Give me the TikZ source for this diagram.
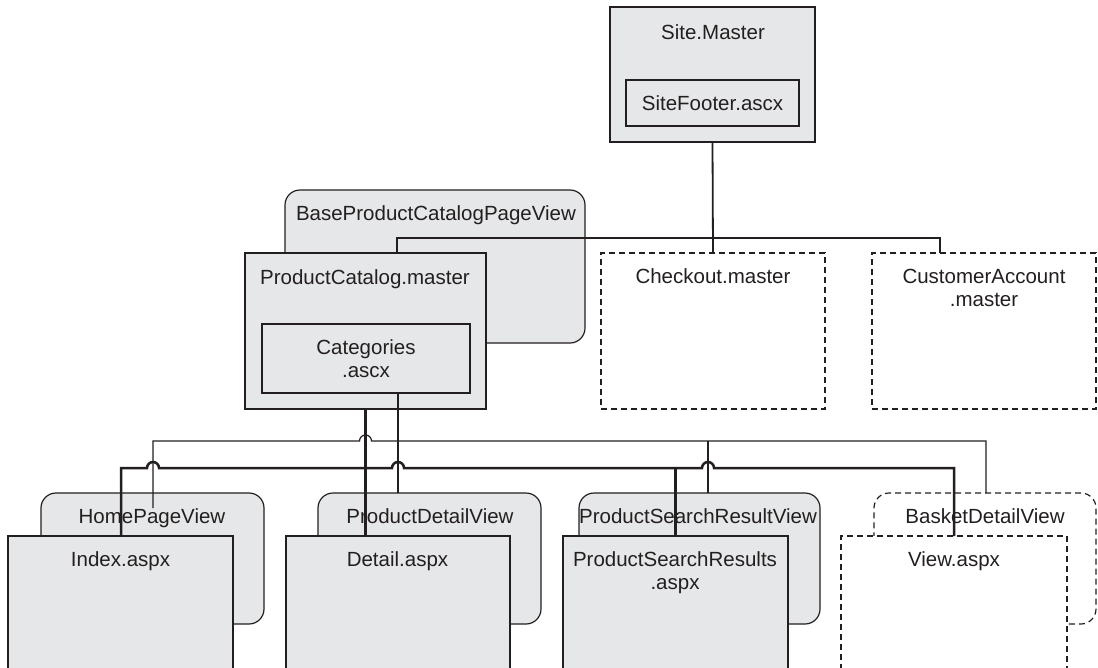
\documentclass[tikz,border=0pt]{standalone}
\usepackage{fontspec}
\setmainfont{Liberation Sans}
\usetikzlibrary{calc}
\definecolor{boxfill}{HTML}{E6E7E8}
\definecolor{ink}{HTML}{231F20}
\begin{document}
\begin{tikzpicture}[x=1pt,y=-1pt,
  box/.style={draw=ink, fill=boxfill, line width=1.2pt, inner sep=0pt, outer sep=0pt, anchor=north west},
  rbox/.style={box, rounded corners=15pt},
  dbox/.style={box, fill=white, dash pattern=on 6pt off 4pt},
  drbox/.style={dbox, rounded corners=15pt},
  lbl/.style={font=\fontsize{20.5}{23}\selectfont, text=ink, inner sep=0pt, anchor=base, align=center},
  thinc/.style={draw=ink, line width=1.2pt},
  midc/.style={draw=ink, line width=1.8pt},
  thickc/.style={draw=ink, line width=2.5pt}]
\clip (0,0) rectangle (1098,667);
\fill[white] (0,0) rectangle (1098,667);
% top level
\node[box, minimum width=205pt, minimum height=135pt] (site) at (610,7) {};
\node[box, minimum width=173pt, minimum height=46pt] (footer) at (626,80) {};
\node[lbl] (siteL) at (713,39) {Site.Master};
\node[lbl] (footerL) at (712.5,110.7) {SiteFooter.ascx};
\node[dbox, minimum width=224pt, minimum height=156pt] (checkout) at (601,253) {};
\node[lbl] (checkoutL) at (713,283.3) {Checkout.master};
\node[dbox, minimum width=224pt, minimum height=156pt] (ca) at (872,253) {};
\node[lbl] (caL) at (984,306.5) {CustomerAccount\\.master};
\node[rbox, minimum width=300pt, minimum height=153pt] (bpc) at (285,190) {};
\node[lbl] (bpcL) at (436,220.7) {BaseProductCatalogPageView};
\node[box, minimum width=241pt, minimum height=156pt] (pcm) at (245,253) {};
\node[lbl] (pcmL) at (365,284) {ProductCatalog.master};
\node[box, minimum width=208pt, minimum height=69pt] (cat) at (262,324) {};
\node[lbl] (catL) at (366,377.5) {Categories\\.ascx};
% bottom level
\node[rbox, minimum width=223pt, minimum height=131pt] (hpv) at (41,493) {};
\node[lbl] (hpvL) at (152,523.3) {HomePageView};
\node[box, minimum width=225pt, minimum height=150pt] (index) at (8,536) {};
\node[lbl] (indexL) at (120.5,566.7) {Index.aspx};
\node[rbox, minimum width=223pt, minimum height=131pt] (pdv) at (318,493) {};
\node[lbl] (pdvL) at (430,523.3) {ProductDetailView};
\node[box, minimum width=224pt, minimum height=150pt] (detail) at (286,536) {};
\node[lbl] (detailL) at (397.5,566.7) {Detail.aspx};
\node[rbox, minimum width=241pt, minimum height=131pt] (psrv) at (579,493) {};
\node[lbl] (psrvL) at (698,523.3) {ProductSearchResultView};
\node[box, minimum width=225pt, minimum height=150pt] (psr) at (563,536) {};
\node[lbl] (psrL) at (675,589.7) {ProductSearchResults\\.aspx};
\node[drbox, minimum width=222pt, minimum height=131pt] (bdv) at (874,493) {};
\node[lbl] (bdvL) at (985,523.3) {BasketDetailView};
\node[dbox, minimum width=226pt, minimum height=150pt] (view) at (841,536) {};
\node[lbl] (viewL) at (954,566.7) {View.aspx};
% top connectors
\coordinate (tl) at (397,238);
\coordinate (tr) at (940,238);
\draw[midc] (site.south) -- (checkout.north);
\draw[midc] (tl |- pcm.north) -- (tl) -- (tr) -- (tr |- ca.north);
% thin bus (Categories)
\coordinate (a1) at (153,441);
\coordinate (a2) at (986,441);
\coordinate (ac) at (398,441);
\coordinate (a3) at (708,441);
\draw[thinc] (ac |- cat.south) -- (ac |- pdv.north);
\draw[thinc] (a1 |- 0,508) -- (a1) -- ($(pcm.south |- a1)+(-6,0)$) arc[start angle=180,end angle=0,radius=6pt] -- (a2) -- (a2 |- bdv.north);
\draw[thinc] (a3) -- (a3 |- psrv.north);
% thick bus (ProductCatalog.master)
\coordinate (b1) at (121,468);
\coordinate (b2) at (954,468);
\draw[thickc] (pcm.south) -- (pcm.south |- detail.north);
\draw[thickc] (b1 |- index.north) -- (b1)
  -- ($(a1 |- b1)+(-6,0)$) arc[start angle=180,end angle=0,radius=6pt]
  -- ($(ac |- b1)+(-6,0)$) arc[start angle=180,end angle=0,radius=6pt]
  -- ($(a3 |- b1)+(-6,0)$) arc[start angle=180,end angle=0,radius=6pt]
  -- (b2) -- (b2 |- view.north);
\draw[thickc] (psr.north |- b1) -- (psr.north);
\end{tikzpicture}
\end{document}
